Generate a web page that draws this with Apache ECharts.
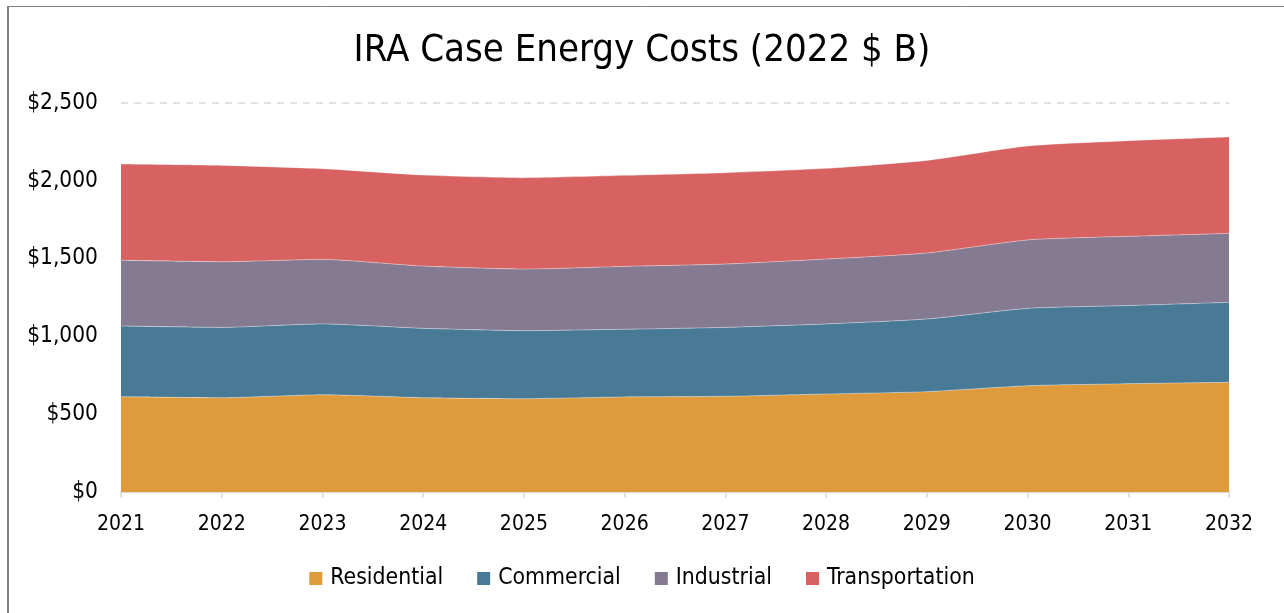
<!DOCTYPE html>
<html>
<head>
<meta charset="utf-8">
<title>IRA Case Energy Costs</title>
<script src="https://cdn.jsdelivr.net/npm/echarts@6/dist/echarts.min.js"></script>
<style>
	html, body { margin: 0; padding: 0; background: #fff; }
	#chart { width: 1284px; height: 613px; }
</style>
</head>
<body>
<div id="chart"></div>
<script>
let years = ['2021', '2022', '2023', '2024', '2025', '2026', '2027', '2028', '2029', '2030', '2031', '2032']
let residential = [612, 606, 625, 606, 600, 611, 615, 630, 645, 683, 696, 705]
let commercial = [455, 452, 455, 446, 437, 435, 443, 450, 467, 497, 502, 514]
let industrial = [422, 422, 415, 400, 396, 404, 407, 417, 424, 440, 445, 443]
let transportation = [619, 619, 583, 585, 587, 585, 587, 583, 595, 604, 615, 620]
let yTicks = [0, 500, 1000, 1500, 2000, 2500]

let fontName = '"DejaVu Sans Condensed", "DejaVu Sans", sans-serif'

makeArea = (name, data, color) => {
	return {
		name: name,
		type: 'line',
		stack: 'total',
		smooth: 0.2,
		symbol: 'none',
		data: data,
		lineStyle: {
			width: 0.8,
			color: 'rgba(255, 255, 255, 0.45)'
		},
		itemStyle: {
			color: color
		},
		areaStyle: {
			color: color,
			opacity: 1
		}
	}
}

let chart = echarts.init(document.getElementById('chart'))
let option = {
	backgroundColor: '#fff',
	animation: false,
	title: {
		text: 'IRA Case Energy Costs (2022 $ B)',
		left: 'center',
		top: 27,
		textStyle: {
			fontFamily: fontName,
			fontWeight: 'normal',
			fontSize: 38,
			color: '#000'
		}
	},
	legend: {
		bottom: 18,
		left: 'center',
		icon: 'rect',
		itemWidth: 13,
		itemHeight: 13,
		itemGap: 34,
		textStyle: {
			fontFamily: fontName,
			fontSize: 22.8,
			color: '#000',
			padding: [0, 0, 0, 3]
		},
		data: ['Residential', 'Commercial', 'Industrial', 'Transportation']
	},
	grid: {
		left: 121,
		right: 55,
		top: 103,
		bottom: 121,
		containLabel: false
	},
	xAxis: {
		type: 'category',
		boundaryGap: false,
		data: years,
		axisLine: {
			lineStyle: {
				color: '#d9d9d9',
				width: 2
			}
		},
		axisTick: {
			show: true,
			length: 6,
			lineStyle: {
				color: '#d9d9d9',
				width: 1.5
			}
		},
		axisLabel: {
			margin: 22,
			fontFamily: fontName,
			fontSize: 21,
			color: '#000'
		}
	},
	yAxis: {
		type: 'value',
		min: yTicks[0],
		max: yTicks[yTicks.length - 1],
		interval: 500,
		axisLine: { show: false },
		axisTick: { show: false },
		splitLine: {
			show: true,
			lineStyle: {
				type: [7, 6],
				color: '#d9d9d9',
				width: 1.5
			}
		},
		axisLabel: {
			margin: 23,
			fontFamily: fontName,
			fontSize: 22.5,
			color: '#000',
			padding: [12, 0, 0, 0],
			formatter: function(v) {
				return '$' + v.toLocaleString('en-US')
			}
		}
	},
	graphic: [
		{
			// frame, left and top edges
			type: 'line',
			shape: { x1: 8, y1: 6, x2: 8, y2: 613 },
			style: { stroke: '#808080', lineWidth: 2 }
		},
		{
			type: 'line',
			shape: { x1: 7, y1: 6.5, x2: 1284, y2: 6.5 },
			style: { stroke: '#808080', lineWidth: 1 }
		}
	],
	series: [
		makeArea('Residential', residential, '#DF9B3B'),
		makeArea('Commercial', commercial, '#487A96'),
		makeArea('Industrial', industrial, '#847B93'),
		makeArea('Transportation', transportation, '#D86262')
	]
}
chart.setOption(option)
</script>
</body>
</html>
